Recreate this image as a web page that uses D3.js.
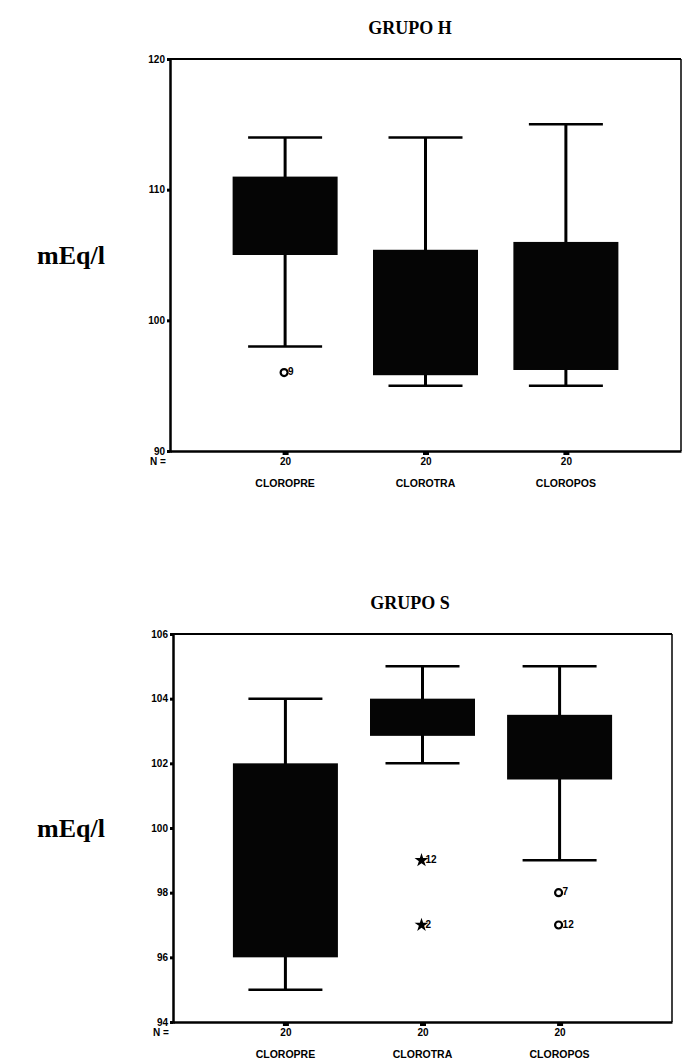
<!DOCTYPE html>
<html>
<head>
<meta charset="utf-8">
<script src="https://cdn.jsdelivr.net/npm/d3@7.9.0/dist/d3.min.js"></script>
<style>
  body { margin: 0; background: #fff; }
  svg { display: block; }
  .title { font-family: "Liberation Serif", "DejaVu Serif", serif; font-weight: bold; font-size: 18px; }
  .ylab { font-family: "Liberation Serif", "DejaVu Serif", serif; font-weight: bold; font-size: 26px; }
  .tick-lab { font-family: "Liberation Sans Narrow", "Liberation Sans", Arial, sans-serif; font-weight: bold; font-size: 10px; }
  .cat-lab { font-family: "Liberation Sans Narrow", "Liberation Sans", Arial, sans-serif; font-weight: bold; font-size: 10.5px; }
</style>
</head>
<body>
<svg id="chart" width="682" height="1062"></svg>
<script>
// categories and counts (same for both groups)
const categories = ["CLOROPRE", "CLOROTRA", "CLOROPOS"];
const nCounts = [20, 20, 20];

// GRUPO H
const ticksH = [90, 100, 110, 120];
const lowH = [98, 95, 95];
const q1H = [105, 95.8, 96.2];
const q3H = [111, 105.4, 106];
const highH = [114, 114, 115];
const outCatH = ["CLOROPRE"];
const outValH = [96];
const outTypeH = ["circle"];
const outLabH = ["9"];

// GRUPO S
const ticksS = [94, 96, 98, 100, 102, 104, 106];
const lowS = [95, 102, 99];
const q1S = [96, 102.85, 101.5];
const q3S = [102, 104, 103.5];
const highS = [104, 105, 105];
const outCatS = ["CLOROTRA", "CLOROTRA", "CLOROPOS", "CLOROPOS"];
const outValS = [99, 97, 98, 97];
const outTypeS = ["star", "star", "circle", "circle"];
const outLabS = ["12", "2", "7", "12"];

const svg = d3.select('#chart');

function drawPanel(cfg) {
    const g = svg.append('g');
    const y = d3.scaleLinear().domain(cfg.domain).range([cfg.bottom, cfg.top]);
    const x = d3.scalePoint().domain(categories).range([cfg.left, cfg.right]).padding(0.82);

    // title + y label
    g.append('text').attr('class', 'title')
        .attr('x', 410).attr('y', cfg.top - 25)
        .attr('text-anchor', 'middle').text(cfg.title);
    g.append('text').attr('class', 'ylab')
        .attr('x', 37).attr('y', (cfg.top + cfg.bottom) / 2 + 9)
        .text('mEq/l');

    // frame
    g.append('line').attr('x1', cfg.left).attr('x2', cfg.right)
        .attr('y1', cfg.top).attr('y2', cfg.top).attr('stroke', '#000').attr('stroke-width', 2);
    g.append('line').attr('x1', cfg.right).attr('x2', cfg.right)
        .attr('y1', cfg.top).attr('y2', cfg.bottom).attr('stroke', '#000').attr('stroke-width', 1.5);

    // y axis
    const yAxis = d3.axisLeft(y).tickValues(cfg.ticks).tickSize(3).tickPadding(2);
    const ya = g.append('g').attr('transform', `translate(${cfg.left},0)`).call(yAxis);
    ya.select('.domain').attr('stroke-width', 2.5);
    ya.selectAll('.tick line').attr('stroke-width', 3);
    ya.selectAll('.tick text').attr('class', 'tick-lab').attr('fill', '#000');

    // x axis with N counts
    const xAxis = d3.axisBottom(x).tickSize(4).tickSizeOuter(0)
        .tickFormat((d, i) => nCounts[i]).tickPadding(3);
    const xa = g.append('g').attr('transform', `translate(0,${cfg.bottom})`).call(xAxis);
    xa.select('.domain').attr('stroke-width', 2.5);
    xa.selectAll('.tick line').attr('stroke-width', 6);
    xa.selectAll('.tick text').attr('class', 'tick-lab').attr('fill', '#000').attr('font-size', 9);
    g.append('text').attr('class', 'tick-lab').attr('font-size', 8)
        .attr('x', cfg.left - 20).attr('y', cfg.bottom + 14).text('N =');

    // category labels
    g.selectAll('.cat').data(categories).join('text')
        .attr('class', 'cat-lab')
        .attr('x', d => x(d)).attr('y', cfg.bottom + 36)
        .attr('text-anchor', 'middle').text(d => d);

    const boxW = 105, capW = 74;
    categories.forEach((c, i) => {
        const cx = x(c);
        // whiskers
        g.append('line').attr('x1', cx).attr('x2', cx)
            .attr('y1', y(cfg.high[i])).attr('y2', y(cfg.low[i]))
            .attr('stroke', '#000').attr('stroke-width', 3);
        [cfg.high[i], cfg.low[i]].forEach(v => {
            g.append('line').attr('x1', cx - capW / 2).attr('x2', cx + capW / 2)
                .attr('y1', y(v)).attr('y2', y(v))
                .attr('stroke', '#000').attr('stroke-width', 2.5);
        });
        // box
        g.append('rect').attr('x', cx - boxW / 2).attr('width', boxW)
            .attr('y', y(cfg.q3[i])).attr('height', y(cfg.q1[i]) - y(cfg.q3[i]))
            .attr('fill', '#050505');
    });

    // outliers
    cfg.outCat.forEach((c, i) => {
        const cx = x(c), cy = y(cfg.outVal[i]);
        if (cfg.outType[i] === 'circle') {
            g.append('circle').attr('cx', cx - 1).attr('cy', cy).attr('r', 3.5)
                .attr('fill', '#fff').attr('stroke', '#000').attr('stroke-width', 2.2);
        } else {
            g.append('path').attr('d', d3.symbol(d3.symbolStar, 60)())
                .attr('transform', `translate(${cx - 1},${cy})`).attr('fill', '#000');
        }
        g.append('text').attr('class', 'tick-lab').attr('font-size', 6)
            .attr('x', cx + 3).attr('y', cy + 2.5).text(cfg.outLab[i]);
    });
}

drawPanel({
    title: 'GRUPO H', domain: [90, 120], ticks: ticksH,
    left: 170, right: 681, top: 59, bottom: 451,
    low: lowH, q1: q1H, q3: q3H, high: highH,
    outCat: outCatH, outVal: outValH, outType: outTypeH, outLab: outLabH
});

drawPanel({
    title: 'GRUPO S', domain: [94, 106], ticks: ticksS,
    left: 173, right: 672, top: 634, bottom: 1022,
    low: lowS, q1: q1S, q3: q3S, high: highS,
    outCat: outCatS, outVal: outValS, outType: outTypeS, outLab: outLabS
});
</script>
</body>
</html>
